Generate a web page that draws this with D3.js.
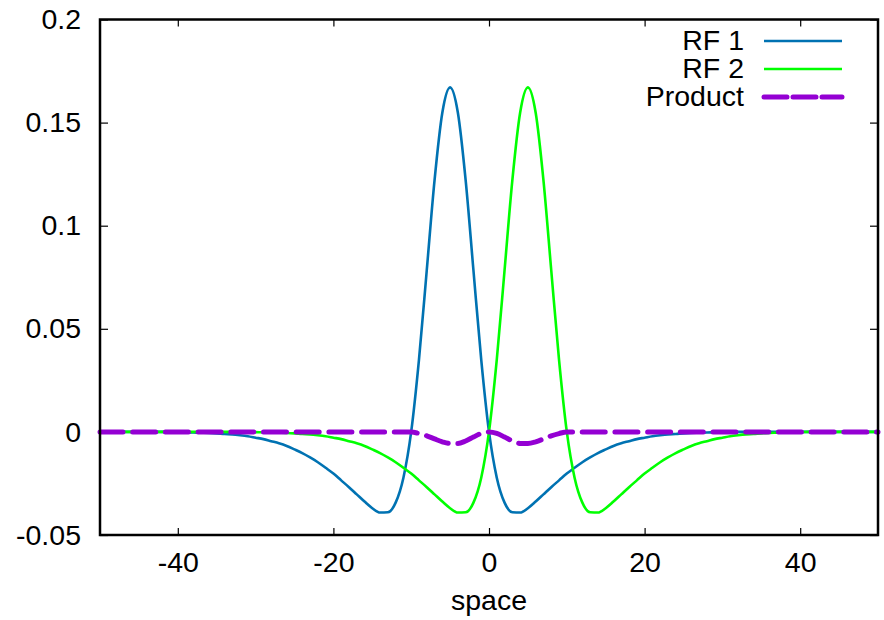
<!DOCTYPE html>
<html><head><meta charset="utf-8">
<script src="https://cdn.jsdelivr.net/npm/d3@7"></script>
<style>body{margin:0;background:#fff}svg{display:block}</style>
</head><body>
<svg id="chart" width="884" height="620"></svg>
<script>
// x positions: -50 .. 50, step 1
const xValues = d3.range(-50, 51);
const rf1 = [
  0,0,0,0,0,0,0,0,0,0,
  -0.0001,-0.0002,-0.0003,-0.0004,-0.0005,-0.0007,-0.0010,-0.0012,-0.0016,-0.0021,
  -0.0028,-0.0035,-0.0045,-0.0055,-0.0068,-0.0085,-0.0103,-0.0124,-0.0147,-0.0174,
  -0.0202,-0.0235,-0.0268,-0.0303,-0.0338,-0.0370,-0.0391,-0.0390,-0.0343,-0.0222,
  0.0001,0.0351,0.0784,0.1220,0.1548,0.1671,0.1548,0.1220,0.0784,0.0351,
  0.0001,-0.0222,-0.0343,-0.0390,-0.0391,-0.0370,-0.0338,-0.0303,-0.0268,-0.0235,
  -0.0202,-0.0174,-0.0147,-0.0124,-0.0103,-0.0085,-0.0068,-0.0055,-0.0045,-0.0035,
  -0.0028,-0.0021,-0.0016,-0.0012,-0.0010,-0.0007,-0.0005,-0.0004,-0.0003,-0.0002,
  -0.0001,0,0,0,0,0,0,0,0,0,
  0,0,0,0,0,0,0,0,0,0,0
];
const rf2 = [
  0,0,0,0,0,0,0,0,0,0,
  0,0,0,0,0,0,0,0,0,0,
  -0.0001,-0.0002,-0.0003,-0.0004,-0.0005,-0.0007,-0.0010,-0.0012,-0.0016,-0.0021,
  -0.0028,-0.0035,-0.0045,-0.0055,-0.0068,-0.0085,-0.0103,-0.0124,-0.0147,-0.0174,
  -0.0202,-0.0235,-0.0268,-0.0303,-0.0338,-0.0370,-0.0391,-0.0390,-0.0343,-0.0222,
  0.0001,0.0351,0.0784,0.1220,0.1548,0.1671,0.1548,0.1220,0.0784,0.0351,
  0.0001,-0.0222,-0.0343,-0.0390,-0.0391,-0.0370,-0.0338,-0.0303,-0.0268,-0.0235,
  -0.0202,-0.0174,-0.0147,-0.0124,-0.0103,-0.0085,-0.0068,-0.0055,-0.0045,-0.0035,
  -0.0028,-0.0021,-0.0016,-0.0012,-0.0010,-0.0007,-0.0005,-0.0004,-0.0003,-0.0002,
  -0.0001,0,0,0,0,0,0,0,0,0,0
];
const product = [
  0,0,0,0,0,0,0,0,0,0,
  0,0,0,0,0,0,0,0,0,0,
  0,0,0,0,0,0,0,0,0,0,
  0,0,0,0,0,0,0,0,0,0,
  0,-0.0008,-0.0019,-0.0034,-0.0048,-0.0056,-0.0056,-0.0044,-0.0025,-0.0007,
  0,-0.0007,-0.0025,-0.0044,-0.0056,-0.0056,-0.0048,-0.0034,-0.0019,-0.0008,
  0,0,0,0,0,0,0,0,0,0,
  0,0,0,0,0,0,0,0,0,0,
  0,0,0,0,0,0,0,0,0,0,
  0,0,0,0,0,0,0,0,0,0,0
];
const xTicks = [-40, -20, 0, 20, 40];
const yTicks = [-0.05, 0, 0.05, 0.1, 0.15, 0.2];
const yTickLabels = ["-0.05", "0", "0.05", "0.1", "0.15", "0.2"];
const seriesNames = ["RF 1", "RF 2", "Product"];
const xLabel = "space";

const FONT = "'Liberation Sans', Arial, Helvetica, sans-serif";
const FS = 28.5;
const L = 100, R = 878, T = 19.5, B = 535;
const svg = d3.select("#chart");
const x = d3.scaleLinear().domain([-50, 50]).range([L, R]);
const y = d3.scaleLinear().domain([-0.05, 0.2]).range([B, T]);

function styleAxis(g, showText) {
  g.select(".domain").remove();
  g.selectAll(".tick line").attr("stroke", "#000").attr("stroke-width", 1.2);
  g.selectAll(".tick text").attr("fill", "#000").style("font-family", FONT).style("font-size", FS + "px");
  if (!showText) g.selectAll(".tick text").remove();
}

svg.append("g").attr("transform", `translate(0,${B})`)
  .call(d3.axisBottom(x).tickValues(xTicks).tickSize(-7).tickPadding(17).tickFormat(d => String(d)))
  .call(g => styleAxis(g, true));
svg.append("g").attr("transform", `translate(0,${T})`)
  .call(d3.axisTop(x).tickValues(xTicks).tickSize(-7))
  .call(g => styleAxis(g, false));
svg.append("g").attr("transform", `translate(${L},0)`)
  .call(d3.axisLeft(y).tickValues(yTicks).tickSize(-8).tickPadding(19)
    .tickFormat((d, i) => yTickLabels[i]))
  .call(g => styleAxis(g, true));
svg.append("g").attr("transform", `translate(${R},0)`)
  .call(d3.axisRight(y).tickValues(yTicks).tickSize(-8))
  .call(g => styleAxis(g, false));

const line = d3.line().x((d, i) => x(xValues[i])).y(d => y(d)).curve(d3.curveMonotoneX);
const series = [
  {name: seriesNames[0], values: rf1, color: "#0072b2", width: 2.6, dash: null},
  {name: seriesNames[1], values: rf2, color: "#00ff00", width: 2.6, dash: null},
  {name: seriesNames[2], values: product, color: "#9400d3", width: 5, dash: "23,9.7"}
];
series.forEach(s => {
  svg.append("path").datum(s.values).attr("d", line)
    .attr("fill", "none").attr("stroke", s.color).attr("stroke-width", s.width)
    .attr("stroke-linejoin", "round")
    .attr("stroke-linecap", s.dash ? "round" : "butt")
    .attr("stroke-dasharray", s.dash);
});

// frame
svg.append("rect").attr("x", L).attr("y", T).attr("width", R - L).attr("height", B - T)
  .attr("fill", "none").attr("stroke", "#000").attr("stroke-width", 2.5);

// legend
const leg = svg.append("g");
series.forEach((s, i) => {
  const ly = 41 + i * 28;
  leg.append("text").attr("x", 744).attr("y", ly).attr("dy", "0.32em")
    .attr("text-anchor", "end").style("font-family", FONT).style("font-size", FS + "px")
    .text(s.name);
  leg.append("line").attr("x1", 764).attr("x2", 842).attr("y1", ly).attr("y2", ly)
    .attr("stroke", s.color).attr("stroke-width", s.width)
    .attr("stroke-linecap", s.dash ? "round" : "butt")
    .attr("stroke-dasharray", s.dash ? "23,6" : null);
});

// x axis title
svg.append("text").attr("x", (L + R) / 2).attr("y", 610).attr("text-anchor", "middle")
  .style("font-family", FONT).style("font-size", FS + "px").text(xLabel);
</script>
</body></html>
